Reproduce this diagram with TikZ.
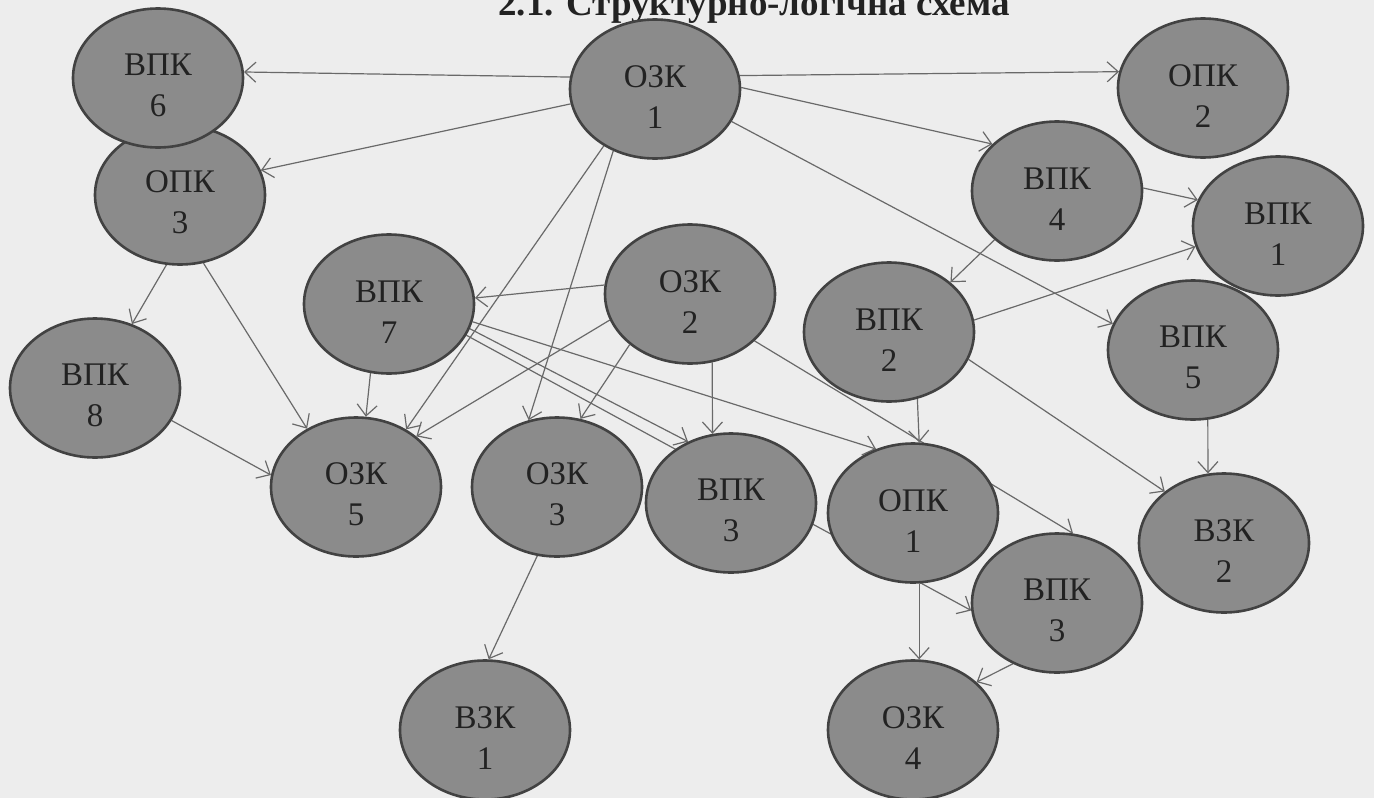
\documentclass[tikz,border=0pt]{standalone}
\usepackage{fontspec}
\setmainfont{Liberation Serif}
\usetikzlibrary{shapes.geometric,arrows.meta,backgrounds}

\definecolor{paper}{RGB}{237,237,237}
\definecolor{blobfill}{RGB}{139,139,139}
\definecolor{blobedge}{RGB}{66,66,66}
\definecolor{blobtext}{RGB}{34,34,34}
\definecolor{linkgray}{RGB}{105,105,105}

% Two-line label of a component, pushed a little down
\newcommand{\comp}[2]{\rule{0pt}{37pt}#1\\#2}

\tikzset{
  blob/.style={ellipse, draw=blobedge, line width=2.6pt, fill=blobfill,
    minimum width=170pt, minimum height=139pt, inner sep=0pt, align=center,
    text=blobtext, font=\fontsize{33}{41}\selectfont},
  link/.style={draw=linkgray, line width=1.2pt,
    -{Straight Barb[length=11pt,width=20pt]}},
}

\begin{document}
\begin{tikzpicture}[x=1pt, y=-1pt]
        % Page frame, everything outside is cut away
        \useasboundingbox (0,0) rectangle (1374,798);
        \clip (0,0) rectangle (1374,798);

        % Title, cut by the upper edge as in the scan
        \node (title) at (754,15) [anchor=base, text=blobtext,
            font=\fontsize{37}{40}\selectfont\bfseries] {2.1. Структурно-логічна схема};

        % Upper part
        \node (opk3) at (180,195) [blob] {\comp{ОПК}{3}};
        \node (vpk6) at (158,78) [blob] {\comp{ВПК}{6}};
        \node (ozk1) at (655,89) [blob] {\comp{ОЗК}{1}};
        \node (opk2) at (1203,88) [blob] {\comp{ОПК}{2}};
        \node (vpk4) at (1057,191) [blob] {\comp{ВПК}{4}};
        \node (vpk1) at (1278,226) [blob] {\comp{ВПК}{1}};

        % Middle part
        \node (vpk7) at (389,304) [blob] {\comp{ВПК}{7}};
        \node (ozk2) at (690,294) [blob] {\comp{ОЗК}{2}};
        \node (vpk2) at (889,332) [blob] {\comp{ВПК}{2}};
        \node (vpk5) at (1193,350) [blob] {\comp{ВПК}{5}};
        \node (vpk8) at (95,388) [blob] {\comp{ВПК}{8}};

        % Lower part
        \node (ozk5) at (356,487) [blob] {\comp{ОЗК}{5}};
        \node (ozk3) at (557,487) [blob] {\comp{ОЗК}{3}};
        \node (vpk3a) at (731,503) [blob] {\comp{ВПК}{3}};
        \node (opk1) at (913,513) [blob] {\comp{ОПК}{1}};
        \node (vzk2) at (1224,543) [blob] {\comp{ВЗК}{2}};
        \node (vpk3b) at (1057,603) [blob] {\comp{ВПК}{3}};
        \node (vzk1) at (485,730) [blob] {\comp{ВЗК}{1}};
        \node (ozk4) at (913,730) [blob] {\comp{ОЗК}{4}};

        % Connectors go under the ellipses
        \begin{scope}[on background layer]
            \fill [paper] (0,0) rectangle (1374,798);

            \draw [link] (ozk1.172) -- (vpk6.4);
            \draw [link] (ozk1.9) -- (opk2.169);
            \draw [link] (ozk1.190) -- (opk3.17);
            \draw [link] (ozk1.1) -- (vpk4.144);
            \draw [link] (ozk1.337) -- (vpk5.162);
            \draw [link] (ozk1.228) -- (ozk5.49);
            \draw [link] (ozk1.236) -- (ozk3.113);

            \draw [link] (opk3.259) -- (vpk8.60);
            \draw [link] (opk3.289) -- (ozk5.130);
            \draw [link] (vpk8.337) -- (ozk5.172);

            \draw [link] (vpk7.255) -- (ozk5.82);
            \draw [link] (vpk7.343) -- (vpk3a.125);
            \draw [link] (vpk7.338) -- (vpk3b.185);
            \draw [link] (vpk7.348) -- (opk1.120);

            \draw [link] (ozk2.174) -- (vpk7.4);
            \draw [link] (ozk2.198) -- (ozk5.40);
            \draw [link] (ozk2.220) -- (ozk3.71);
            \draw [link] (ozk2.288) -- (vpk3a.105);
            \draw [link] (ozk2.324) -- (vpk3b.77);

            \draw [link] (vpk4.2) -- (vpk1.162);
            \draw [link] (vpk4.218) -- (vpk2.39);
            \draw [link] (vpk2.8) -- (vpk1.194);
            \draw [link] (vpk2.293) -- (opk1.85);
            \draw [link] (vpk2.341) -- (vzk2.139);
            \draw [link] (vpk5.282) -- (vzk2.103);

            \draw [link] (ozk3.254) -- (vzk1.87);
            \draw [link] (opk1.275) -- (ozk4.85);
            \draw [link] (vpk3b.234) -- (ozk4.37);
        \end{scope}
\end{tikzpicture}
\end{document}
